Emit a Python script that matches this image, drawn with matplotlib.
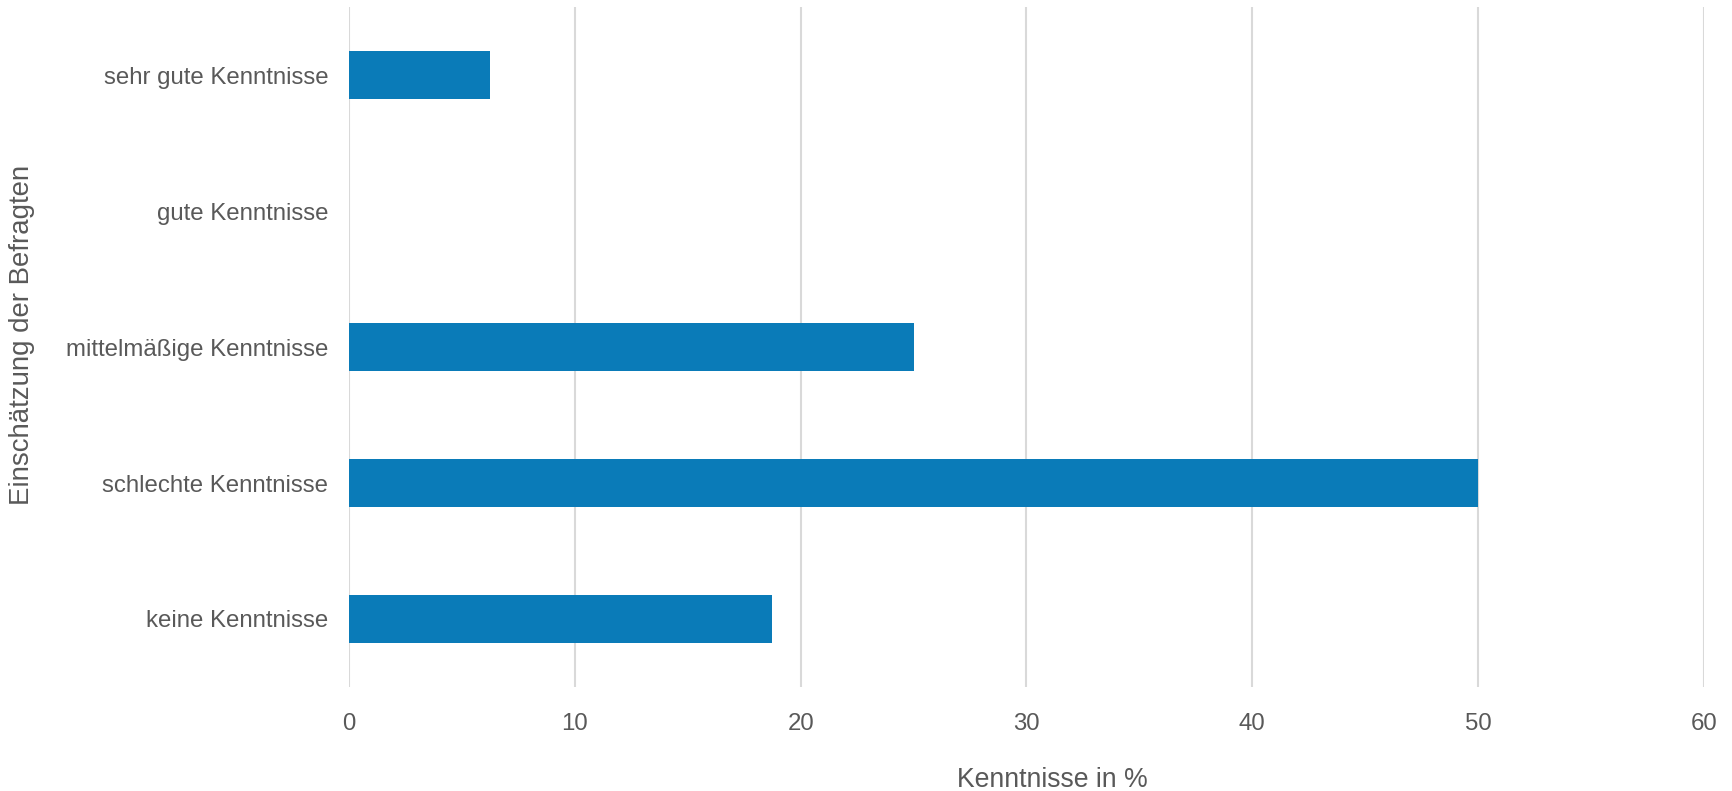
"""Horizontal bar chart: self-assessed knowledge of respondents."""

import matplotlib
matplotlib.use("Agg")
import matplotlib.pyplot as plt

categories = ["keine Kenntnisse", "schlechte Kenntnisse", "mittelmäßige Kenntnisse",
              "gute Kenntnisse", "sehr gute Kenntnisse"]
values = [18.75, 50.0, 25.0, 0.0, 6.25]
x_ticks = [0, 10, 20, 30, 40, 50, 60]

BAR_COLOR = "#0a7bb8"
TEXT_COLOR = "#595959"
GRID_COLOR = "#d9d9d9"

plt.rcParams["font.family"] = ["Liberation Sans", "DejaVu Sans"]

fig = plt.figure(figsize=(17.32, 7.91), dpi=100)
ax = fig.add_axes([0.2015, 0.1315, 0.7823, 0.8595])

ax.barh(categories, values, height=0.35, color=BAR_COLOR, zorder=3)

ax.set_xlim(0, 60)
ax.set_ylim(-0.5, len(categories) - 0.5)
ax.set_xticks(x_ticks)
ax.xaxis.grid(True, color=GRID_COLOR, linewidth=1.5, zorder=0)
ax.tick_params(axis="both", length=0, labelsize=17.3, labelcolor=TEXT_COLOR)
ax.tick_params(axis="y", pad=15)
ax.tick_params(axis="x", pad=19)
for side in ("top", "right", "bottom", "left"):
    ax.spines[side].set_visible(False)

fig.text(1052 / 1732, 1 - 780 / 791, "Kenntnisse in %", ha="center", va="center",
         fontsize=19.2, color=TEXT_COLOR)
fig.text(22 / 1732, 1 - 335 / 791, "Einschätzung der Befragten", ha="center",
         va="center", rotation=90, fontsize=19.9, color=TEXT_COLOR)

fig.savefig("out.png", dpi=100)
